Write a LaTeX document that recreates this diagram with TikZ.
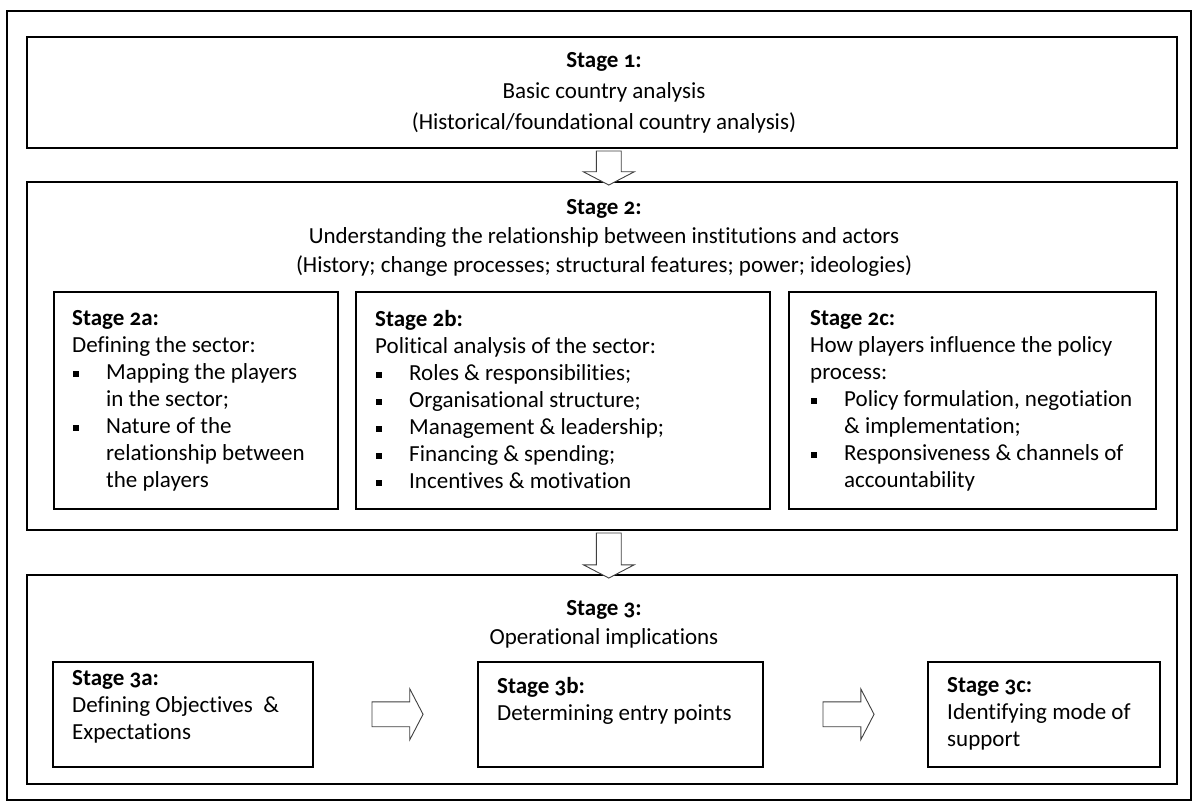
\documentclass[tikz,border=0pt]{standalone}
\usepackage{fontspec}
\setmainfont{Carlito}[Numbers=OldStyle, Ligatures=NoCommon]
\usetikzlibrary{shapes.arrows,calc}
\newcommand{\bul}{\makebox[34pt][l]{\hspace{1pt}\rule[2.5pt]{6pt}{6pt}}}
\newcommand{\ind}{\hspace*{34pt}}
\tikzset{
  box/.style={draw=black, line width=1.6pt, anchor=north west, inner sep=0pt},
  txt/.style={anchor=north west, inner sep=0pt, align=left, font=\fontsize{23}{27}\selectfont},
  ctxt/.style={inner sep=0pt, align=center, font=\fontsize{23}{29}\selectfont},
  barrow/.style={single arrow, draw=black!75, line width=0.9pt, fill=white,
    inner sep=12pt, single arrow head extend=13pt, single arrow tip angle=125,
    minimum width=50pt},
}
\begin{document}
\begin{tikzpicture}[x=1pt,y=-1pt]
\useasboundingbox (0,0) rectangle (1192,801);
% frames
\node[box, minimum width=1184pt, minimum height=789pt] (outer) at (6,10) {};
\node[box, minimum width=1150pt, minimum height=111pt] (s1) at (26,36) {};
\node[box, minimum width=1150pt, minimum height=348pt] (s2) at (26,181) {};
\node[box, minimum width=284pt, minimum height=217pt] (s2a) at (53,291) {};
\node[box, minimum width=414pt, minimum height=217pt] (s2b) at (355,291) {};
\node[box, minimum width=367pt, minimum height=217pt] (s2c) at (788,291) {};
\node[box, minimum width=1150pt, minimum height=209pt] (s3) at (26,574) {};
\node[box, minimum width=260pt, minimum height=105pt] (s3a) at (52,661) {};
\node[box, minimum width=285pt, minimum height=105pt] (s3b) at (477,661) {};
\node[box, minimum width=232pt, minimum height=105pt] (s3c) at (927,661) {};
% texts
\node[ctxt, font=\fontsize{23}{31}\selectfont] (t1) at (604,93) {\textbf{Stage 1:}\\Basic country analysis\\(Historical/foundational country analysis)};
\node[ctxt, anchor=north] (t2) at (604,199) {\textbf{Stage 2:}\\Understanding the relationship between institutions and actors\\(History; change processes; structural features; power; ideologies)};
\node[ctxt, anchor=north] (t3) at (604,600) {\textbf{Stage 3:}\\Operational implications};
\node[txt] (t2a) at (72,310) {\textbf{Stage 2a:}\\Defining the sector:\\\bul Mapping the players\\\ind in the sector;\\\bul Nature of the\\\ind relationship between\\\ind the players};
\node[txt] (t2b) at (375,310) {\textbf{Stage 2b:}\\Political analysis of the sector:\\\bul Roles \& responsibilities;\\\bul Organisational structure;\\\bul Management \& leadership;\\\bul Financing \& spending;\\\bul Incentives \& motivation};
\node[txt] (t2c) at (810,310) {\textbf{Stage 2c:}\\How players influence the policy\\process:\\\bul Policy formulation, negotiation\\\ind \& implementation;\\\bul Responsiveness \& channels of\\\ind accountability};
\node[txt] (t3a) at (72,670) {\textbf{Stage 3a:}\\Defining Objectives\ \ \&\\Expectations};
\node[txt] (t3b) at (497,677) {\textbf{Stage 3b:}\\Determining entry points};
\node[txt] (t3c) at (947,677) {\textbf{Stage 3c:}\\Identifying mode of\\support};
% block arrows
\node[barrow, shape border rotate=270, minimum height=34pt] (a1) at ($(s1.south)!0.5!(s2.north)+(7,0)$) {};
\node[barrow, shape border rotate=270, minimum height=45pt] (a2) at ($(s2.south)!0.5!(s3.north)+(7,0)$) {};
\node[barrow, minimum height=51pt] (a3) at ($(s3a.east)!0.5!(s3b.west)+(-1,0)$) {};
\node[barrow, minimum height=51pt] (a4) at ($(s3b.east)!0.5!(s3c.west)$) {};
\end{tikzpicture}
\end{document}
